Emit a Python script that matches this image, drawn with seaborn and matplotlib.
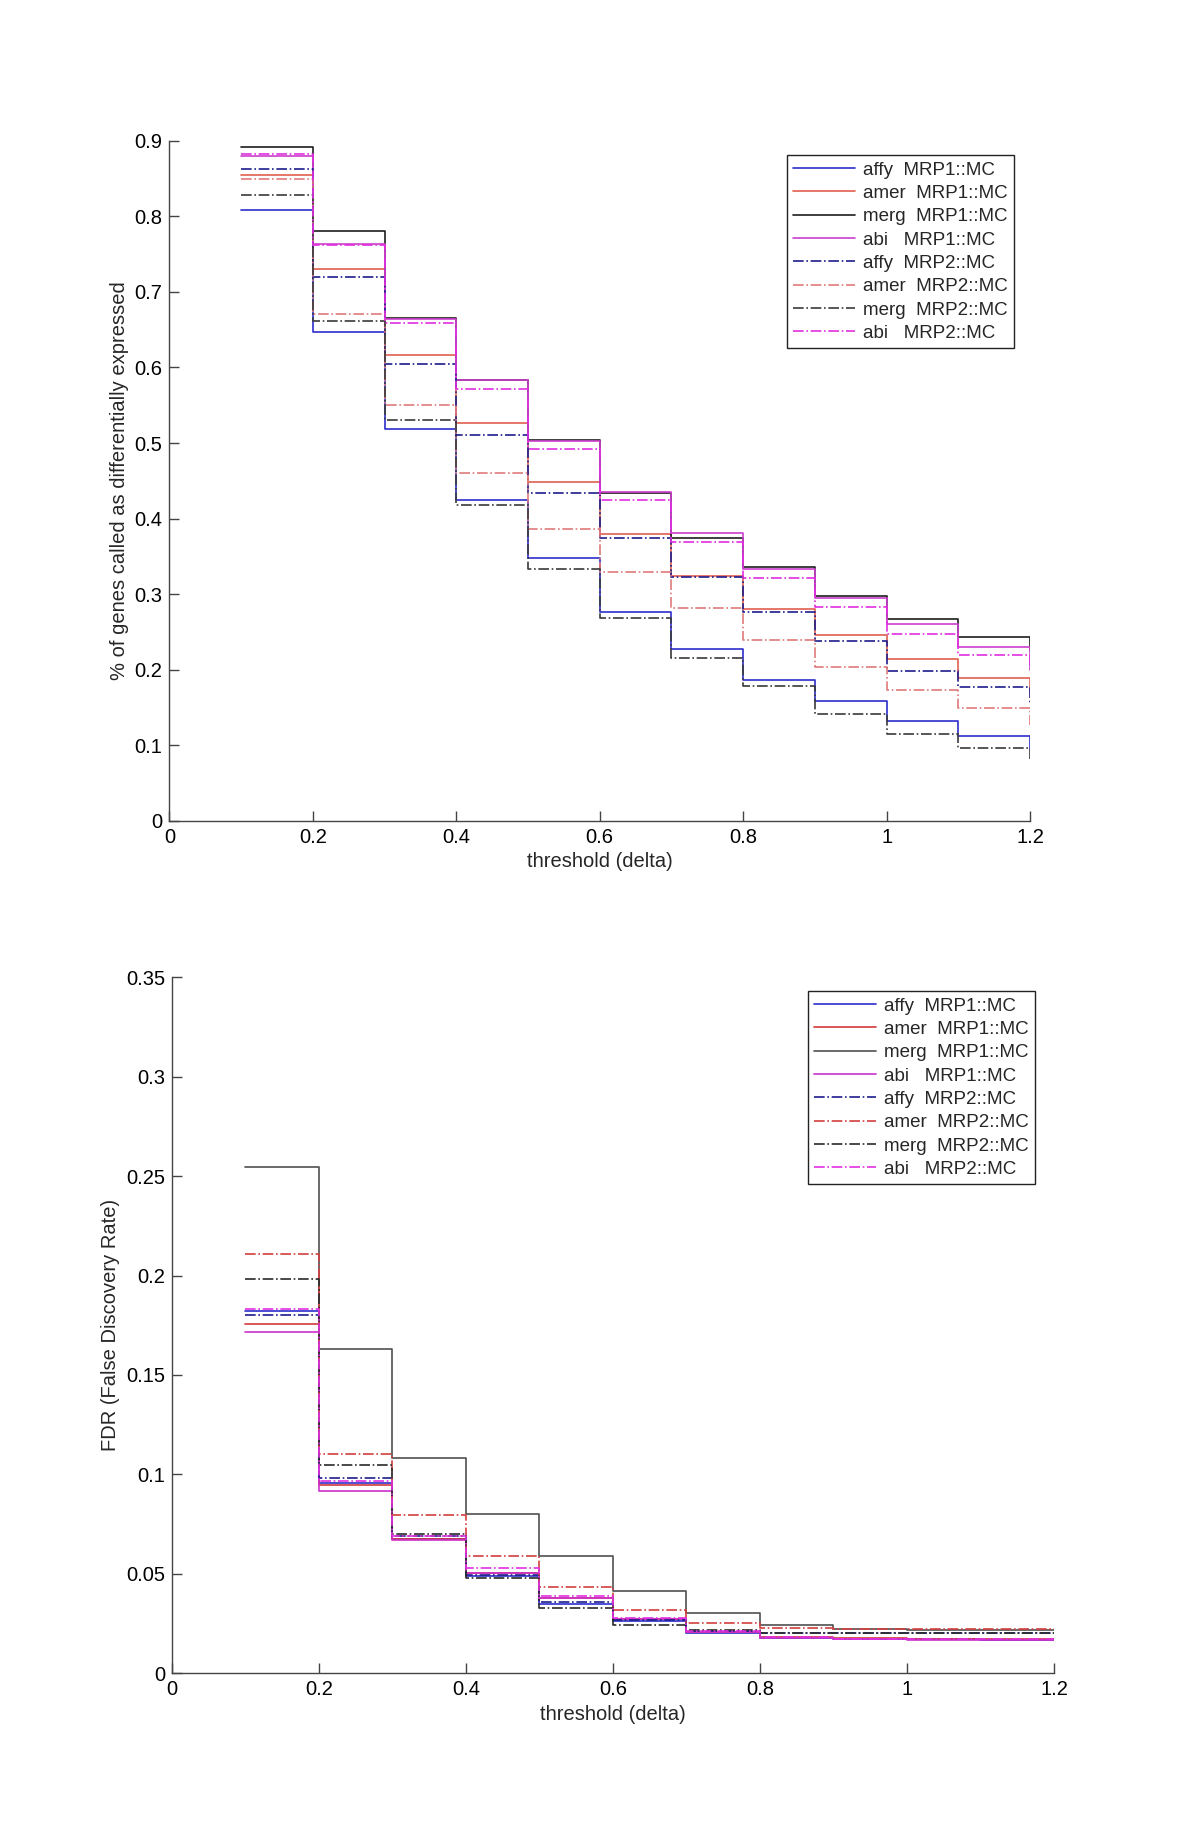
import matplotlib
matplotlib.use("Agg")
import matplotlib.pyplot as plt
import seaborn as sns
import numpy as np
import pandas as pd

sns.set_theme(style="white")
plt.rcParams['font.family'] = ['Liberation Sans', 'DejaVu Sans']

# thresholds (stairs edges)
thresholds = [0.1, 0.2, 0.3, 0.4, 0.5, 0.6, 0.7, 0.8, 0.9, 1.0, 1.1, 1.2]

labels = ["affy  MRP1::MC", "amer  MRP1::MC", "merg  MRP1::MC", "abi   MRP1::MC",
          "affy  MRP2::MC", "amer  MRP2::MC", "merg  MRP2::MC", "abi   MRP2::MC"]

# % of genes called as differentially expressed
pct_affy_mrp1 = [0.808, 0.647, 0.519, 0.425, 0.348, 0.276, 0.227, 0.187, 0.159, 0.132, 0.113, 0.095]
pct_amer_mrp1 = [0.854, 0.730, 0.616, 0.527, 0.448, 0.379, 0.324, 0.281, 0.246, 0.214, 0.189, 0.170]
pct_merg_mrp1 = [0.892, 0.780, 0.665, 0.584, 0.504, 0.434, 0.375, 0.336, 0.298, 0.267, 0.244, 0.225]
pct_abi_mrp1  = [0.880, 0.764, 0.664, 0.583, 0.503, 0.435, 0.381, 0.333, 0.295, 0.260, 0.230, 0.200]
pct_affy_mrp2 = [0.862, 0.720, 0.605, 0.511, 0.434, 0.375, 0.323, 0.276, 0.238, 0.199, 0.177, 0.156]
pct_amer_mrp2 = [0.850, 0.671, 0.550, 0.460, 0.386, 0.329, 0.282, 0.239, 0.204, 0.173, 0.149, 0.127]
pct_merg_mrp2 = [0.828, 0.662, 0.531, 0.418, 0.334, 0.268, 0.215, 0.178, 0.141, 0.115, 0.096, 0.082]
pct_abi_mrp2  = [0.882, 0.762, 0.659, 0.571, 0.492, 0.424, 0.369, 0.321, 0.283, 0.247, 0.220, 0.205]

# FDR (False Discovery Rate)
fdr_affy_mrp1 = [0.1823, 0.0955, 0.0673, 0.0488, 0.0350, 0.0262, 0.0200, 0.0178, 0.0172, 0.0170, 0.0168, 0.0168]
fdr_amer_mrp1 = [0.1755, 0.0948, 0.0675, 0.0505, 0.0377, 0.0272, 0.0205, 0.0180, 0.0175, 0.0172, 0.0170, 0.0170]
fdr_merg_mrp1 = [0.2546, 0.1630, 0.1080, 0.0800, 0.0588, 0.0415, 0.0301, 0.0242, 0.0220, 0.0215, 0.0215, 0.0215]
fdr_abi_mrp1  = [0.1714, 0.0914, 0.0670, 0.0505, 0.0377, 0.0272, 0.0205, 0.0178, 0.0172, 0.0168, 0.0168, 0.0168]
fdr_affy_mrp2 = [0.1800, 0.0983, 0.0690, 0.0496, 0.0360, 0.0265, 0.0210, 0.0203, 0.0202, 0.0200, 0.0200, 0.0200]
fdr_amer_mrp2 = [0.2110, 0.1100, 0.0795, 0.0589, 0.0432, 0.0316, 0.0252, 0.0225, 0.0220, 0.0222, 0.0222, 0.0222]
fdr_merg_mrp2 = [0.1980, 0.1045, 0.0698, 0.0478, 0.0328, 0.0242, 0.0215, 0.0203, 0.0202, 0.0200, 0.0200, 0.0200]
fdr_abi_mrp2  = [0.1830, 0.0966, 0.0690, 0.0527, 0.0388, 0.0275, 0.0210, 0.0180, 0.0174, 0.0170, 0.0170, 0.0170]

pct_series = [pct_affy_mrp1, pct_amer_mrp1, pct_merg_mrp1, pct_abi_mrp1,
              pct_affy_mrp2, pct_amer_mrp2, pct_merg_mrp2, pct_abi_mrp2]
fdr_series = [fdr_affy_mrp1, fdr_amer_mrp1, fdr_merg_mrp1, fdr_abi_mrp1,
              fdr_affy_mrp2, fdr_amer_mrp2, fdr_merg_mrp2, fdr_abi_mrp2]

top_colors = ['#2d2dcc', '#e0604f', '#1e1e1e', '#cc40cc',
              '#1e1e8c', '#e07a7a', '#3a3a3a', '#e02ee0']
bot_colors = ['#2d2dcc', '#d23a3a', '#505050', '#cc30cc',
              '#1e1e8c', '#d24040', '#2a2a2a', '#e030e0']
styles = ['-', '-', '-', '-', '-.', '-.', '-.', '-.']

fig = plt.figure(figsize=(12, 18.37), dpi=100)
ax1 = fig.add_axes([0.1411, 0.5531, 0.7173, 0.3703])
ax2 = fig.add_axes([0.1433, 0.0892, 0.7350, 0.3788])

FS = 14.5
LFS = 13.5

def draw(ax, series, colors):
    for vals, lab, col, ls in zip(series, labels, colors, styles):
        df = pd.DataFrame({"threshold": thresholds, "value": vals})
        sns.lineplot(data=df, x="threshold", y="value", ax=ax, color=col,
                     linestyle=ls, linewidth=1.2, drawstyle='steps-post',
                     label=lab, estimator=None, sort=False, legend=False)
    for s in ['top', 'right']:
        ax.spines[s].set_visible(False)
    for s in ['left', 'bottom']:
        ax.spines[s].set_color('#444444')
        ax.spines[s].set_linewidth(1.0)
    ax.tick_params(direction='in', length=7, width=1.0, color='#444444',
                   labelsize=FS, labelcolor='black', left=True, bottom=True, pad=5)
    ax.set_xlim(0, 1.2)
    ax.set_xticks([0, 0.2, 0.4, 0.6, 0.8, 1.0, 1.2])
    ax.set_xticklabels(['0', '0.2', '0.4', '0.6', '0.8', '1', '1.2'])
    ax.set_xlabel('threshold (delta)', fontsize=FS, labelpad=4)

draw(ax1, pct_series, top_colors)
ax1.set_ylim(0, 0.9)
ax1.set_yticks(np.arange(0, 0.91, 0.1))
ax1.set_yticklabels(['0', '0.1', '0.2', '0.3', '0.4', '0.5', '0.6', '0.7', '0.8', '0.9'])
ax1.set_ylabel('% of genes called as differentially expressed', fontsize=FS, labelpad=4)

draw(ax2, fdr_series, bot_colors)
ax2.set_ylim(0, 0.35)
ax2.set_yticks([0, 0.05, 0.1, 0.15, 0.2, 0.25, 0.3, 0.35])
ax2.set_yticklabels(['0', '0.05', '0.1', '0.15', '0.2', '0.25', '0.3', '0.35'])
ax2.set_ylabel('FDR (False Discovery Rate)', fontsize=FS, labelpad=4)

for ax, anchor in [(ax1, (0.845, 0.9156)), (ax2, (0.8625, 0.4605))]:
    leg = ax.legend(loc='upper right', bbox_to_anchor=anchor,
                    bbox_transform=fig.transFigure, fontsize=LFS,
                    frameon=True, fancybox=False, framealpha=1,
                    edgecolor='#222222', handlelength=3.3, handletextpad=0.4,
                    labelspacing=0.33, borderpad=0.35, borderaxespad=0)
    leg.get_frame().set_linewidth(1.0)

fig.savefig('out.png', dpi=100, facecolor='white')
